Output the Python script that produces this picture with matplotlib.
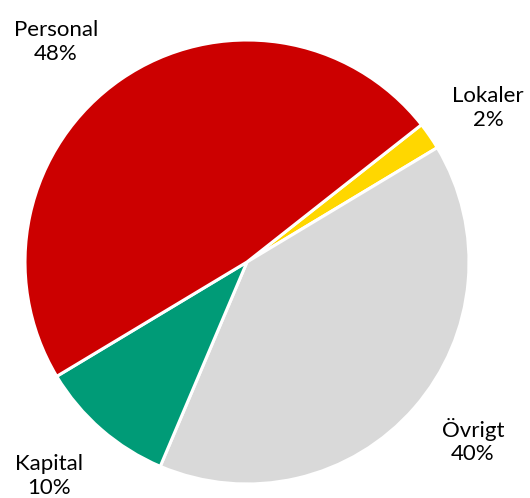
import matplotlib
matplotlib.use("Agg")
import matplotlib.pyplot as plt

# data, clockwise starting from Lokaler
categories = ["Lokaler", "Övrigt", "Kapital", "Personal"]
shares = [2, 40, 10, 48]
colors = ["#FFD700", "#D9D9D9", "#009B77", "#CC0000"]

# label centres in pixels (x, y from top)
label_pos = {
    "Lokaler": (488, 108),
    "Övrigt": (473, 441),
    "Kapital": (49, 476),
    "Personal": (56, 42),
}

plt.rcParams['font.family'] = ['Lato', 'DejaVu Sans']

W, H = 530, 498
fig = plt.figure(figsize=(W / 100, H / 100), dpi=100)

cx, cy, r = 247, 262, 222
ax = fig.add_axes([(cx - r) / W, (H - cy - r) / H, 2 * r / W, 2 * r / H])
ax.pie(shares, colors=colors, startangle=38.2, counterclock=False,
       wedgeprops=dict(edgecolor="white", linewidth=2.2), radius=1)
ax.set_xlim(-1, 1)
ax.set_ylim(-1, 1)
ax.set_aspect("equal")
ax.axis("off")

for cat, val in zip(categories, shares):
    x, y = label_pos[cat]
    fig.text(x / W, 1 - y / H, f"{cat}\n{val}%", ha="center", va="center",
             fontsize=16, linespacing=1.2, color="black")

fig.savefig("out.png", dpi=100)
